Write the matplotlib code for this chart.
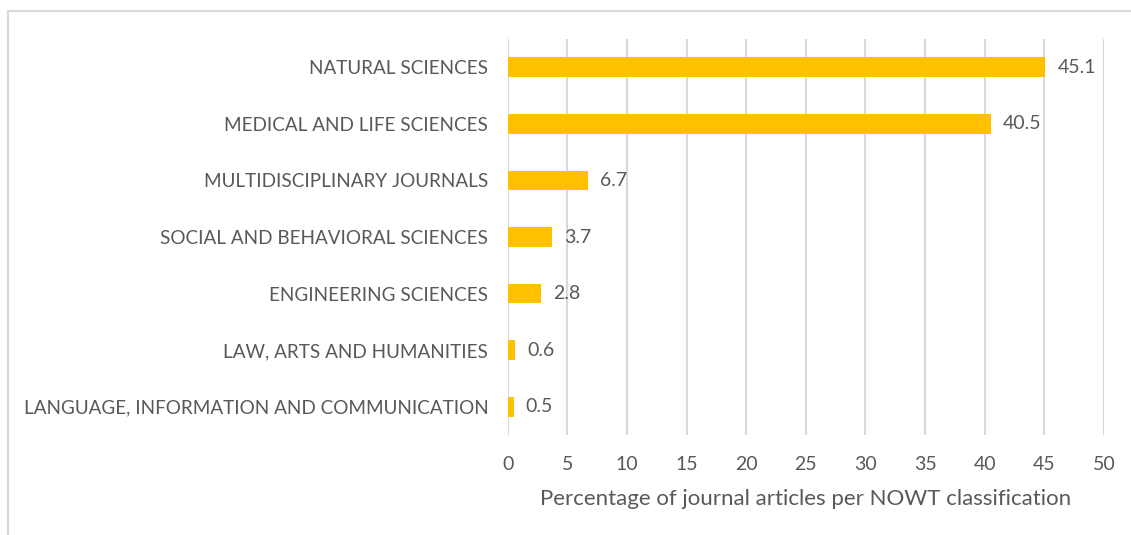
import matplotlib.pyplot as plt
from matplotlib.patches import Rectangle

categories = ["NATURAL SCIENCES", "MEDICAL AND LIFE SCIENCES", "MULTIDISCIPLINARY JOURNALS",
              "SOCIAL AND BEHAVIORAL SCIENCES", "ENGINEERING SCIENCES",
              "LAW, ARTS AND HUMANITIES", "LANGUAGE, INFORMATION AND COMMUNICATION"]
values = [45.1, 40.5, 6.7, 3.7, 2.8, 0.6, 0.5]
xticks = [0, 5, 10, 15, 20, 25, 30, 35, 40, 45, 50]

plt.rcParams['font.family'] = ['Lato', 'DejaVu Sans']
txt = "#595959"

fig = plt.figure(figsize=(11.31, 5.35), dpi=100)
ax = fig.add_axes([0.449, 0.187, 0.527, 0.74])

y = list(range(len(categories)))[::-1]
ax.barh(y, values, height=0.35, color="#FFC000", zorder=3)
for yi, v in zip(y, values):
    ax.text(v + 1.0, yi, f"{v}", va="center", ha="left", fontsize=14, color=txt)

ax.set_xlim(0, 50)
ax.set_ylim(-0.5, len(categories) - 0.5)
ax.set_xticks(xticks)
ax.set_yticks(y)
ax.set_yticklabels(categories, fontsize=13.6)
ax.grid(axis="x", color="#D9D9D9", linewidth=1.5, zorder=0)
for s in ax.spines.values():
    s.set_visible(False)
ax.tick_params(length=0, colors=txt)
ax.tick_params(axis="x", pad=15, labelsize=14)
ax.tick_params(axis="y", pad=14)
ax.set_xlabel("Percentage of journal articles per NOWT classification", fontsize=16, color=txt, labelpad=12)

fig.patches.append(Rectangle((8 / 1131, -0.1), 1.2, 1 - 11 / 535 + 0.1, transform=fig.transFigure,
                             fill=False, edgecolor="#D9D9D9", linewidth=1.5))

fig.savefig("out.png", dpi=100, facecolor="white")
